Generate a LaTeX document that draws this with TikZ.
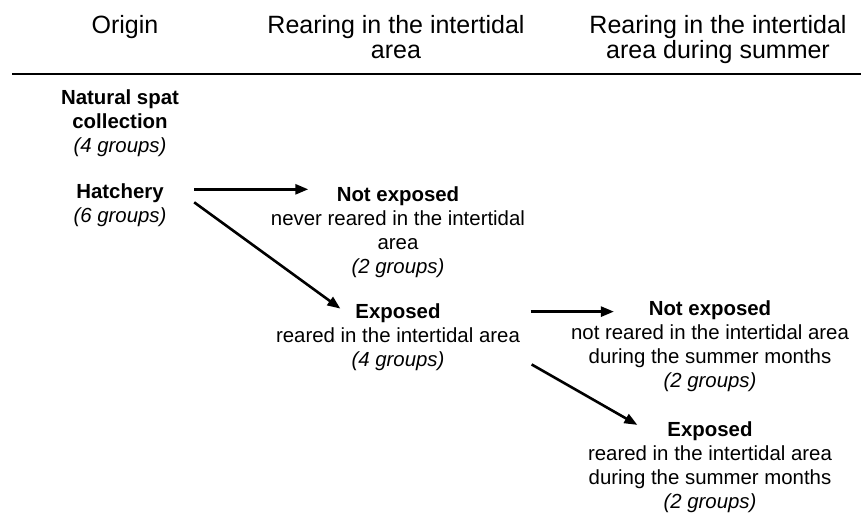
\documentclass[tikz,border=0pt]{standalone}
\usepackage{fontspec}
\setmainfont{Liberation Sans}
\usetikzlibrary{arrows.meta}

\begin{document}
\begin{tikzpicture}[x=1pt,y=-1pt,
        kopf/.style={font=\fontsize{25}{25}\selectfont, align=center, anchor=base, inner sep=0pt},
        gruppe/.style={font=\fontsize{20.4}{23.7}\selectfont, align=center, anchor=base, inner sep=0pt},
        pfeil/.style={line width=2.6pt, -{Triangle[length=13pt,width=10pt]}}]
    \useasboundingbox (0,0) rectangle (861,516);

    % Kopfzeile (Position = Grundlinie der letzten Zeile)
    \node[kopf] (origin) at (125,34) {Origin};
    \node[kopf] (rearing) at (396,59) {Rearing in the intertidal\\area};
    \node[kopf] (summer) at (718,59) {Rearing in the intertidal\\area during summer};
    \draw[line width=2.5pt] (12,74) -- (861,74);

    % Herkunft
    \node[gruppe] (natural) at (120,152) {\textbf{Natural spat}\\\textbf{collection}\\\textit{(4 groups)}};
    \node[gruppe] (hatchery) at (120,222) {\textbf{Hatchery}\\\textit{(6 groups)}};

    % Aufzucht im Gezeitenbereich
    \node[gruppe] (notexpA) at (398,273) {\textbf{Not exposed}\\never reared in the intertidal\\area\\\textit{(2 groups)}};
    \node[gruppe] (expA) at (398,366) {\textbf{Exposed}\\reared in the intertidal area\\\textit{(4 groups)}};

    % Aufzucht im Sommer
    \node[gruppe] (notexpB) at (710,387) {\textbf{Not exposed}\\not reared in the intertidal area\\during the summer months\\\textit{(2 groups)}};
    \node[gruppe] (expB) at (710,508) {\textbf{Exposed}\\reared in the intertidal area\\during the summer months\\\textit{(2 groups)}};

    % Pfeilenden
    \coordinate (h1) at ([shift={(27.5,6)}]hatchery.north east);
    \coordinate (h2) at ([shift={(27.5,19)}]hatchery.north east);
    \coordinate (e1) at ([shift={(10.5,8)}]expA.north east);
    \coordinate (e2) at ([shift={(11.5,-6)}]expA.south east);
    \coordinate (t1) at ([shift={(37.5,0)}]notexpA.north west);
    \coordinate (t3) at ([shift={(43,0)}]notexpB.north west);

    % Pfeile
    \draw[pfeil] (h1) -- (h1 -| t1);
    \draw[pfeil] (h2) -- ([shift={(64.5,5)}]expA.north west);
    \draw[pfeil] (e1) -- (e1 -| t3);
    \draw[pfeil] (e2) -- ([shift={(49.5,3)}]expB.north west);
\end{tikzpicture}
\end{document}
